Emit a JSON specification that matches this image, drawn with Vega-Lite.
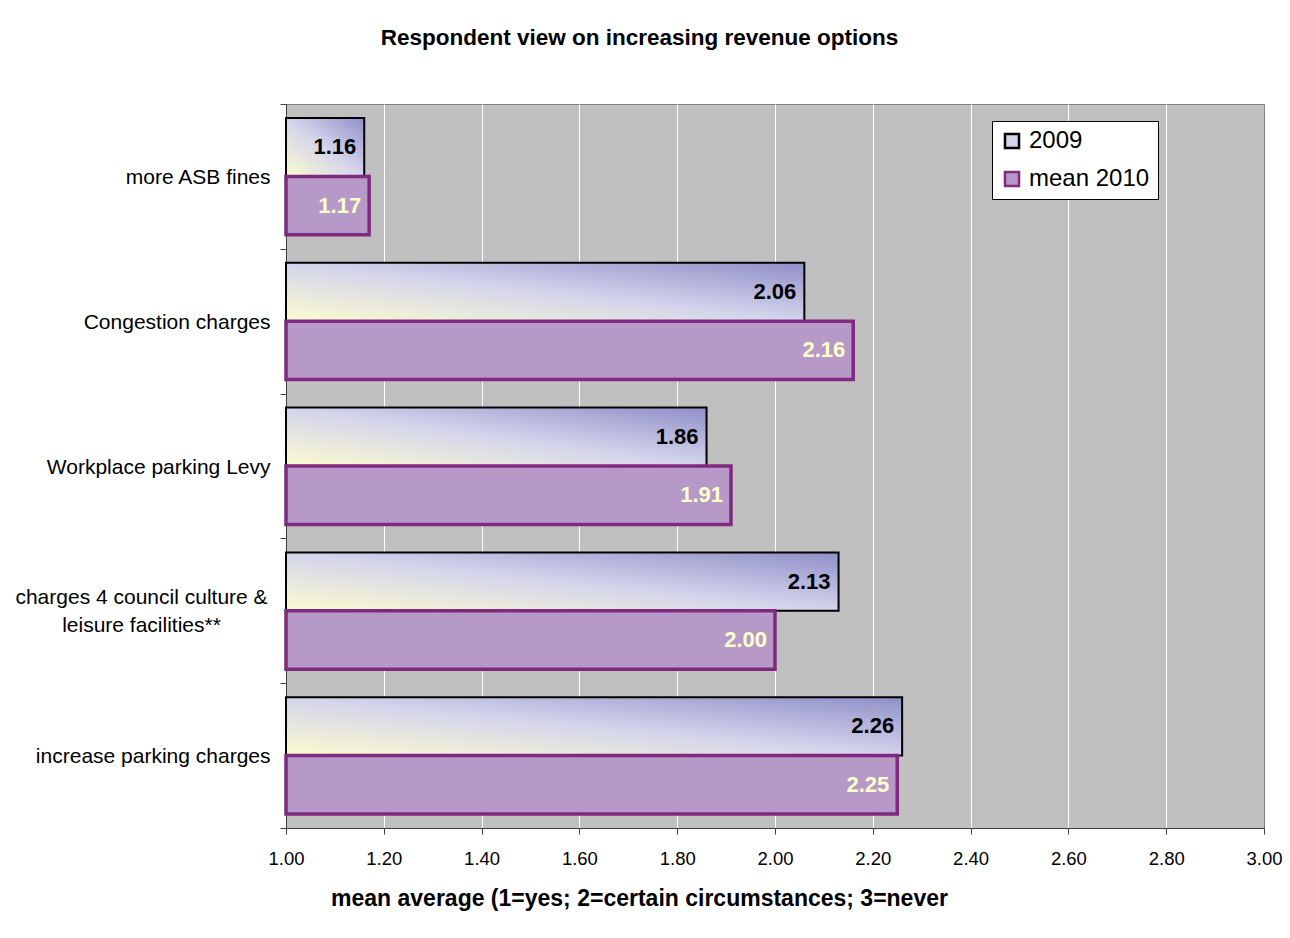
{
  "$schema": "https://vega.github.io/schema/vega-lite/v6.json",
  "width": 978,
  "height": 724,
  "autosize": "none",
  "padding": {"left": 286, "top": 104, "right": 26, "bottom": 110},
  "background": "white",
  "title": {
    "text": "Respondent view on increasing revenue options",
    "anchor": "middle",
    "frame": "bounds",
    "offset": 44,
    "dx": -9,
    "font": "Liberation Sans",
    "fontSize": 22.5,
    "fontWeight": "bold",
    "color": "#000000"
  },
  "data": {
    "values": [
      {"option": "more ASB fines", "series": "2009", "value": 1.16},
      {"option": "more ASB fines", "series": "mean 2010", "value": 1.17},
      {"option": "Congestion charges", "series": "2009", "value": 2.06},
      {"option": "Congestion charges", "series": "mean 2010", "value": 2.16},
      {"option": "Workplace parking Levy", "series": "2009", "value": 1.86},
      {"option": "Workplace parking Levy", "series": "mean 2010", "value": 1.91},
      {"option": "charges 4 council culture & leisure facilities**", "series": "2009", "value": 2.13},
      {"option": "charges 4 council culture & leisure facilities**", "series": "mean 2010", "value": 2.0},
      {"option": "increase parking charges", "series": "2009", "value": 2.26},
      {"option": "increase parking charges", "series": "mean 2010", "value": 2.25}
    ]
  },
  "encoding": {
    "y": {
      "field": "option",
      "type": "nominal",
      "sort": null,
      "scale": {"paddingInner": 0, "paddingOuter": 0},
      "axis": {
        "title": null,
        "grid": false,
        "tickBand": "extent",
        "tickSize": 6,
        "tickColor": "#404040",
        "domainColor": "#404040",
        "labelFont": "Liberation Sans",
        "labelFontSize": 21,
        "labelColor": "#000000",
        "labelLimit": 400,
        "labelLineHeight": 28,
        "labelExpr": "datum.value == 'charges 4 council culture & leisure facilities**' ? ['charges 4 council culture &', 'leisure facilities**'] : datum.label",
        "labelAlign": {
          "condition": {"test": "datum.value == 'charges 4 council culture & leisure facilities**'", "value": "center"},
          "value": "right"
        },
        "labelPadding": {
          "condition": {"test": "datum.value == 'charges 4 council culture & leisure facilities**'", "value": 139},
          "value": 10
        },
        "labelOffset": {
          "condition": {"test": "datum.value == 'charges 4 council culture & leisure facilities**'", "value": -13},
          "value": 1
        }
      }
    },
    "yOffset": {
      "field": "series",
      "type": "nominal",
      "sort": ["2009", "mean 2010"],
      "scale": {"paddingInner": 0, "paddingOuter": 0.24}
    }
  },
  "layer": [
    {
      "mark": {"type": "bar", "strokeJoin": "miter"},
      "encoding": {
        "x": {
          "field": "value",
          "type": "quantitative",
          "scale": {"domain": [1, 3], "zero": false, "nice": false},
          "axis": {
            "title": "mean average (1=yes; 2=certain circumstances; 3=never",
            "titleFont": "Liberation Sans",
            "titleFontSize": 23,
            "titleFontWeight": "bold",
            "titleColor": "#000000",
            "titleAnchor": "start",
            "titleAlign": "center",
            "titleX": 353,
            "titleY": 77,
            "titleBaseline": "alphabetic",
            "values": [1, 1.2, 1.4, 1.6, 1.8, 2, 2.2, 2.4, 2.6, 2.8, 3],
            "format": ".2f",
            "labelFont": "Liberation Sans",
            "labelFontSize": 18.5,
            "labelColor": "#000000",
            "labelPadding": 15,
            "labelFlush": false,
            "labelOverlap": false,
            "tickSize": 6,
            "tickColor": "#404040",
            "domainColor": "#404040",
            "grid": true,
            "gridWidth": 1,
            "gridColor": {
              "condition": {"test": "datum.value <= 1.01 || datum.value >= 2.99", "value": "rgba(0,0,0,0)"},
              "value": "#ffffff"
            }
          }
        },
        "x2": {"datum": 1},
        "fill": {
          "condition": {
            "test": "datum.series === '2009'",
            "value": {
              "gradient": "linear",
              "x1": 0, "y1": 1, "x2": 1, "y2": 0,
              "stops": [
                {"offset": 0, "color": "#fbfbd0"},
                {"offset": 0.5, "color": "#d4d4ec"},
                {"offset": 1, "color": "#8f8fc8"}
              ]
            }
          },
          "field": "series",
          "type": "nominal",
          "scale": {"domain": ["2009", "mean 2010"], "range": ["#d4d4ec", "#b799c7"]},
          "legend": {
            "title": null,
            "orient": "none",
            "legendX": 706,
            "legendY": 17,
            "padding": 8,
            "strokeColor": "#000000",
            "fillColor": "#ffffff",
            "symbolType": "square",
            "symbolSize": 196,
            "symbolStrokeWidth": 2.5,
            "labelFont": "Liberation Sans",
            "labelFontSize": 24,
            "labelColor": "#000000",
            "rowPadding": 14,
            "labelOffset": 5,
            "encode": {
              "symbols": {
                "update": {
                  "fill": [
                    {
                      "test": "datum.value === '2009'",
                      "value": {
                        "gradient": "linear",
                        "x1": 0, "y1": 1, "x2": 1, "y2": 0,
                        "stops": [
                          {"offset": 0, "color": "#fbfbd0"},
                          {"offset": 0.5, "color": "#d4d4ec"},
                          {"offset": 1, "color": "#8f8fc8"}
                        ]
                      }
                    },
                    {"value": "#b799c7"}
                  ]
                }
              }
            }
          }
        },
        "stroke": {
          "field": "series",
          "type": "nominal",
          "scale": {"domain": ["2009", "mean 2010"], "range": ["#000000", "#7f2a80"]},
          "legend": {
            "title": null,
            "orient": "none",
            "legendX": 706,
            "legendY": 17,
            "padding": 8,
            "strokeColor": "#000000",
            "fillColor": "#ffffff",
            "symbolType": "square",
            "symbolSize": 196,
            "symbolStrokeWidth": 2.5,
            "labelFont": "Liberation Sans",
            "labelFontSize": 24,
            "labelColor": "#000000",
            "rowPadding": 14,
            "labelOffset": 5
          }
        },
        "strokeWidth": {
          "condition": {"test": "datum.series === '2009'", "value": 2},
          "value": 3.5
        }
      }
    },
    {
      "mark": {
        "type": "text",
        "align": "right",
        "baseline": "middle",
        "dx": -8,
        "font": "Liberation Sans",
        "fontSize": 22,
        "fontWeight": "bold"
      },
      "encoding": {
        "x": {"field": "value", "type": "quantitative"},
        "text": {"field": "value", "type": "quantitative", "format": ".2f"},
        "color": {
          "condition": {"test": "datum.series === '2009'", "value": "#000000"},
          "value": "#ffffcc"
        }
      }
    }
  ],
  "config": {
    "view": {"fill": "#c0c0c0", "stroke": "#808080", "strokeWidth": 1}
  }
}
